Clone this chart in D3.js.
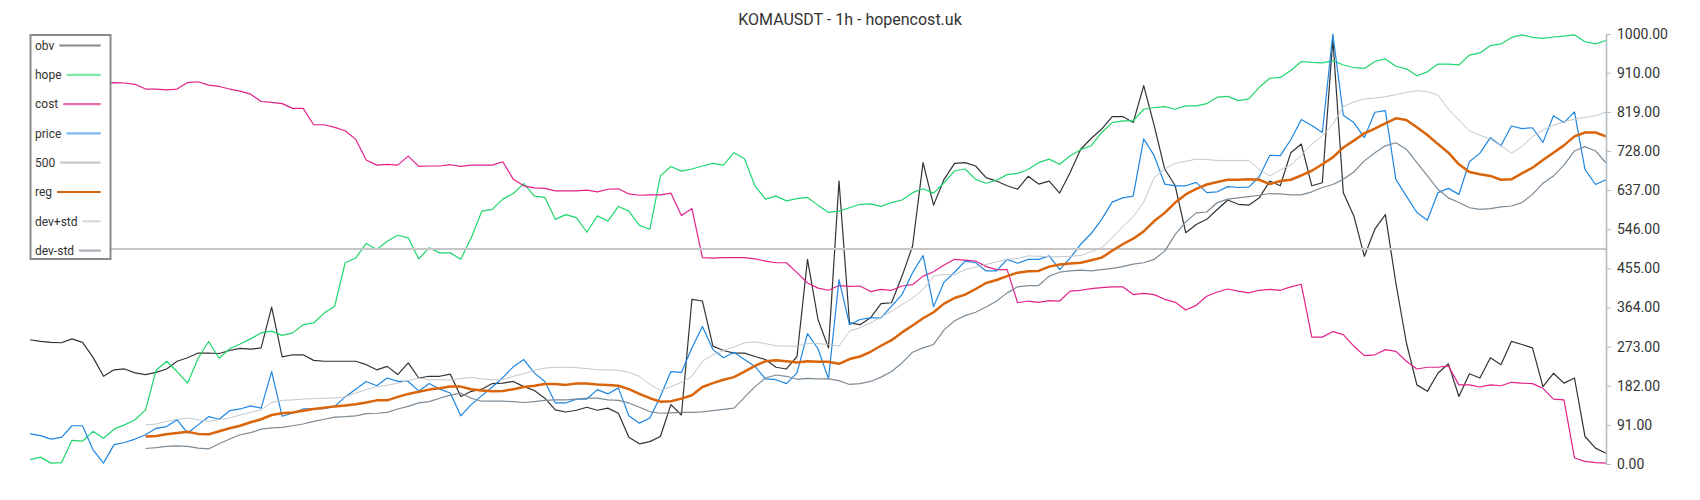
<!DOCTYPE html>
<html>
<head>
<meta charset="utf-8">
<script src="https://cdn.jsdelivr.net/npm/d3@7"></script>
<style>
  html, body { margin: 0; padding: 0; background: #fff; }
  svg { display: block; font-family: Roboto, "Noto Sans", sans-serif; }
</style>
</head>
<body>
<svg id="chart" width="1700" height="500"></svg>
<script>
const title = "KOMAUSDT - 1h - hopencost.uk";
const seriesNames = ["obv", "hope", "cost", "price", "500", "reg", "dev+std", "dev-std"];
const tickValues = [0, 91, 182, 273, 364, 455, 546, 637, 728, 819, 910, 1000];

const obv = [289,285,283,282,291,283,248,204,219,221,212,208,213,221,239,247,258,258,257,
264,269,267,270,365,249,254,254,241,239,239,239,239,231,219,227,208,235,200,
204,204,209,157,169,174,187,188,192,180,171,153,126,121,125,132,125,130,
118,62,47,52,64,138,114,383,379,274,264,258,258,250,243,225,221,250,476,
336,270,658,328,324,340,373,375,437,507,701,602,662,699,701,693,666,658,
647,639,669,651,658,630,678,732,757,779,808,808,794,880,787,686,647,538,557,
569,592,614,604,602,619,658,647,724,744,647,654,988,631,577,483,546,580,421,
282,184,169,211,233,157,210,200,247,231,285,278,270,180,211,188,200,64,37,25];

const hope = [10,16,2,3,55,53,76,60,81,91,103,126,218,239,215,188,246,285,246,
268,279,291,305,309,299,305,324,328,351,367,468,479,513,499,518,532,526,477,
503,491,491,476,526,588,592,616,629,652,623,620,569,580,573,539,577,565,
599,588,555,546,670,692,681,686,693,699,695,724,710,647,616,623,612,617,620,
602,585,588,596,604,605,599,608,614,631,640,630,654,682,686,662,653,660,
673,676,685,701,709,697,717,731,740,771,794,798,798,825,829,831,825,833,833,
838,853,855,845,849,876,897,899,915,936,934,933,938,928,922,920,936,942,925,
919,903,912,930,930,928,951,956,973,977,992,998,992,990,993,995,998,982,977,985];

const cost = [880,882,880,878,880,884,883,885,
887,886,883,872,872,870,872,887,889,881,878,
872,867,860,843,841,838,827,827,789,789,783,775,755,707,695,697,695,716,692,
693,693,696,692,695,695,695,703,662,647,642,641,635,635,635,637,633,639,
640,628,625,626,626,630,578,594,480,479,480,480,480,477,472,468,468,445,421,
409,404,415,413,414,401,406,404,414,417,437,447,463,476,474,472,459,452,
452,375,379,376,380,379,402,404,408,410,412,412,394,397,394,383,376,358,369,
390,400,407,402,398,404,406,404,412,418,295,295,308,301,274,252,254,266,262,
239,221,225,225,228,184,184,179,184,182,190,188,187,176,151,149,14,6,3,2];

const price = [70,66,58,62,89,89,33,2,45,50,58,68,83,87,103,72,91,110,104,
124,128,135,130,215,111,118,128,128,129,134,156,174,192,182,200,192,192,170,
187,174,165,112,138,159,179,201,226,243,212,192,142,142,151,151,173,163,
177,112,95,107,157,215,213,270,320,266,247,260,243,227,198,196,187,212,303,
268,198,429,324,336,340,340,367,394,445,485,366,423,446,472,468,449,449,
476,467,476,476,484,452,479,511,536,569,609,619,623,756,717,651,647,647,655,
631,633,645,643,644,668,718,717,754,801,787,771,1000,811,794,759,818,822,662,
623,585,567,631,641,627,703,723,759,740,786,780,782,748,810,794,819,685,650,661];

const level500 = 500;

const reg = [null,null,null,null,null,null,null,null,null,null,null,
64,65,69,72,75,70,69,76,
83,89,97,104,114,118,120,124,128,131,134,136,139,143,148,148,156,163,168,
173,176,180,180,174,171,169,170,174,179,182,186,186,184,187,187,185,184,
182,174,163,153,145,146,152,160,179,188,196,202,215,228,239,241,239,236,239,
238,238,233,244,250,261,275,288,306,322,339,353,373,386,394,407,421,428,
437,445,448,449,459,464,466,468,474,480,496,511,524,541,565,584,608,627,640,
650,656,661,661,662,661,651,658,661,671,682,697,713,736,752,769,780,792,804,
800,783,765,744,724,697,679,674,670,661,662,676,689,707,724,741,762,771,771,762];

const devPlus = [null,null,null,null,null,null,null,null,null,null,null,
91,93,99,104,107,103,99,103,
107,114,120,126,143,148,149,151,152,153,154,156,165,173,180,183,188,194,200,
196,196,195,199,201,198,196,196,204,210,218,223,225,225,224,222,219,219,
218,213,204,185,171,180,190,204,239,254,264,272,282,284,280,275,274,274,280,
280,278,274,309,317,328,342,355,371,386,406,437,441,440,452,458,464,470,
476,478,484,483,482,482,483,485,494,503,526,552,575,609,666,686,699,704,709,
708,706,706,706,706,685,670,684,695,718,744,763,790,831,842,849,851,854,859,
864,868,866,858,825,800,775,765,755,740,723,738,761,777,788,796,802,806,810,818];

const devMinus = [null,null,null,null,null,null,null,null,null,null,null,
36,38,41,42,41,37,35,47,
58,68,73,81,84,85,89,93,99,104,109,110,112,117,118,120,128,134,142,
145,153,160,165,153,146,146,146,145,143,145,148,149,149,151,153,153,149,
148,142,132,122,118,119,120,120,121,124,127,130,155,180,200,207,204,197,199,
198,198,194,185,187,192,202,215,235,260,270,278,312,333,345,353,365,379,
398,412,415,415,437,446,449,451,449,452,455,459,465,468,476,495,534,563,584,
586,608,616,619,622,625,629,628,626,626,633,643,650,662,679,705,724,740,747,
732,701,670,639,619,608,596,592,594,598,600,608,627,653,670,695,728,738,728,700];

const N = obv.length;
const series500 = obv.map(() => level500);

const svg = d3.select("#chart");
const x = d3.scaleLinear().domain([0, N - 1]).range([30, 1606]);
const y = d3.scaleLinear().domain([0, 1000]).range([464, 34]);

const styles = [
  { data: obv, color: "#333333", width: 1.2, legend: "#8c8c8c" },
  { data: hope, color: "#1fd66e", width: 1.2, legend: "#80e6aa" },
  { data: cost, color: "#e3218a", width: 1.2, legend: "#ea6fae" },
  { data: price, color: "#1e86e0", width: 1.2, legend: "#7cb8ee" },
  { data: series500, color: "#c6c6c6", width: 2, legend: "#c8c8c8" },
  { data: reg, color: "#d9640a", width: 2.5, legend: "#d2640f" },
  { data: devPlus, color: "#c2c7cb", width: 1, legend: "#d5d9dc" },
  { data: devMinus, color: "#7d8b96", width: 1.2, legend: "#a9b1b8" }
];

const line = d3.line()
  .defined(d => d != null)
  .x((d, i) => x(i))
  .y(d => y(d));

svg.append("g").selectAll("path")
  .data(styles)
  .join("path")
  .attr("fill", "none")
  .attr("stroke", s => s.color)
  .attr("stroke-width", s => s.width)
  .attr("stroke-linejoin", "round")
  .attr("d", s => line(s.data));

// Right axis
const axis = d3.axisRight(y)
  .tickValues(tickValues)
  .tickFormat(d3.format(".2f"))
  .tickSizeInner(5)
  .tickSizeOuter(0)
  .tickPadding(6);

const ag = svg.append("g")
  .attr("transform", "translate(1606,0)")
  .call(axis);
ag.select(".domain").attr("stroke", "#b3bcc2").attr("stroke-width", 1.6);
ag.selectAll(".tick line").attr("stroke", "#b3bcc2");
ag.selectAll(".tick text")
  .attr("fill", "#333")
  .style("font-size", "14px")
  .style("font-family", "Roboto, sans-serif");

// Title
svg.append("text")
  .attr("x", 850)
  .attr("y", 25)
  .attr("text-anchor", "middle")
  .attr("fill", "#333")
  .style("font-size", "16px")
  .text(title);

// Legend
const lg = svg.append("g");
lg.append("rect")
  .attr("x", 30.5).attr("y", 35)
  .attr("width", 80).attr("height", 224)
  .attr("fill", "#fff")
  .attr("stroke", "#8a8a8a")
  .attr("stroke-width", 2);

seriesNames.forEach((name, i) => {
  const cy = 45.5 + i * 29.3;
  const t = lg.append("text")
    .attr("x", 35)
    .attr("y", cy)
    .attr("dy", "0.35em")
    .attr("fill", "#333")
    .style("font-size", "12px")
    .text(name);
  const w = t.node().getComputedTextLength();
  lg.append("line")
    .attr("x1", 35 + w + 5).attr("x2", 100.7)
    .attr("y1", cy).attr("y2", cy)
    .attr("stroke", styles[i].legend)
    .attr("stroke-width", 2.2);
});
</script>
</body>
</html>
